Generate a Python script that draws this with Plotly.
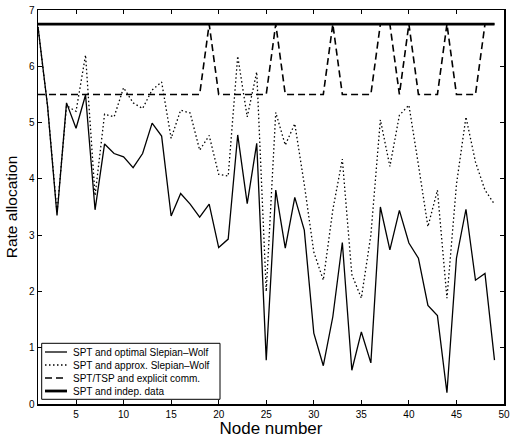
import plotly.graph_objects as go

nodes = list(range(1, 50))

optimal_sw = [6.7, 5.3, 3.35, 5.35, 4.9, 5.49, 3.45, 4.62, 4.45, 4.39,
              4.2, 4.45, 4.99, 4.76, 3.34, 3.74, 3.55, 3.32, 3.55, 2.78,
              2.93, 4.78, 3.56, 4.63, 0.78, 3.8, 2.77, 3.67, 3.09, 1.26,
              0.68, 1.55, 2.87, 0.6, 1.28, 0.73, 3.5, 2.74, 3.44, 2.86,
              2.59, 1.75, 1.57, 0.2, 2.59, 3.46, 2.2, 2.32, 0.78]

approx_sw = [6.7, 5.3, 3.4, 5.3, 5.2, 6.2, 3.7, 5.15, 5.1, 5.62,
             5.35, 5.25, 5.58, 5.72, 4.72, 5.22, 5.17, 4.51, 4.77, 4.08,
             4.05, 6.18, 5.1, 5.9, 2.0, 5.18, 4.6, 4.98, 3.9, 2.7,
             2.2, 3.45, 4.35, 2.3, 1.88, 3.0, 5.05, 4.22, 5.13, 5.31,
             4.25, 3.15, 3.8, 1.88, 3.9, 5.1, 4.3, 3.8, 3.55]

explicit_comm = [5.5, 5.5, 5.5, 5.5, 5.5, 5.5, 5.5, 5.5, 5.5, 5.5,
                 5.5, 5.5, 5.5, 5.5, 5.5, 5.5, 5.5, 5.5, 6.75, 5.5,
                 5.5, 5.5, 5.5, 5.5, 5.5, 6.75, 5.5, 5.5, 5.5, 5.5,
                 5.5, 6.75, 5.5, 5.5, 5.5, 5.5, 6.75, 6.75, 5.5, 6.75,
                 5.5, 5.5, 5.5, 6.75, 5.5, 5.5, 5.5, 6.75, 6.75]

indep_data = [6.75] * 49

series_names = ["SPT and optimal Slepian\u2013Wolf",
                "SPT and approx. Slepian\u2013Wolf",
                "SPT/TSP and explicit comm.",
                "SPT and indep. data"]

x_ticks = [5, 10, 15, 20, 25, 30, 35, 40, 45, 50]
y_ticks = [0, 1, 2, 3, 4, 5, 6, 7]

FONT = "Liberation Sans, Arial, Helvetica"

# figure geometry (pixels)
W_FIG, H_FIG = 510, 445
M_L, M_R, M_T, M_B = 38, 6, 10, 41
PW = W_FIG - M_L - M_R
PH = H_FIG - M_T - M_B


def px_x(p):
    return (p - M_L) / PW


def px_y(p):
    return (H_FIG - M_B - p) / PH


styles = [
    dict(color="black", width=1.3),
    dict(color="black", width=1.3, dash="1.5px,2.5px"),
    dict(color="black", width=1.6, dash="7px,4px"),
    dict(color="black", width=2.8),
]
series = [optimal_sw, approx_sw, explicit_comm, indep_data]

fig = go.Figure()
for name, ys, st in zip(series_names, series, styles):
    fig.add_trace(go.Scatter(x=nodes, y=ys, mode="lines", name=name,
                             line=st, showlegend=False, hoverinfo="skip"))

axis_common = dict(showgrid=False, zeroline=False, showline=True, linecolor="black",
                   linewidth=1.5, mirror="allticks", ticks="inside", ticklen=4,
                   tickcolor="black",
                   tickfont=dict(size=10, color="black", family=FONT))

fig.update_xaxes(range=[1, 50], tickvals=x_ticks, ticktext=[str(v) for v in x_ticks],
                 title=dict(text="Node number",
                            font=dict(size=17, color="black", family=FONT), standoff=3),
                 automargin=False, **axis_common)
fig.update_yaxes(range=[0, 7], tickvals=y_ticks, ticktext=[str(v) for v in y_ticks],
                 title=dict(text="Rate allocation",
                            font=dict(size=15.5, color="black", family=FONT), standoff=7),
                 automargin=False, **axis_common)

# compact legend drawn in paper coordinates
shapes = [dict(type="rect", xref="paper", yref="paper",
               x0=px_x(41.7), x1=px_x(220), y0=px_y(399.3), y1=px_y(343.3),
               line=dict(color="black", width=1), fillcolor="white", layer="above")]
annotations = []
row_y = [352, 365, 378, 391]
for name, st, ry in zip(series_names, styles, row_y):
    ln = dict(color=st["color"], width=st["width"])
    if "dash" in st:
        ln["dash"] = st["dash"]
    shapes.append(dict(type="line", xref="paper", yref="paper",
                       x0=px_x(45), x1=px_x(67), y0=px_y(ry), y1=px_y(ry),
                       line=ln, layer="above"))
    annotations.append(dict(xref="paper", yref="paper", x=px_x(71), y=px_y(ry),
                            xanchor="left", yanchor="middle", text=name,
                            showarrow=False,
                            font=dict(size=10, color="black", family=FONT)))

fig.update_layout(
    width=W_FIG, height=H_FIG,
    margin=dict(l=M_L, r=M_R, t=M_T, b=M_B, autoexpand=False),
    paper_bgcolor="white", plot_bgcolor="white",
    showlegend=False,
    hovermode=False,
    shapes=shapes,
    annotations=annotations,
    font=dict(family=FONT, color="black"),
)

fig.write_html("out.html", config={"displayModeBar": False, "staticPlot": True},
               post_script="document.body.style.margin='0';document.body.style.padding='0';")
